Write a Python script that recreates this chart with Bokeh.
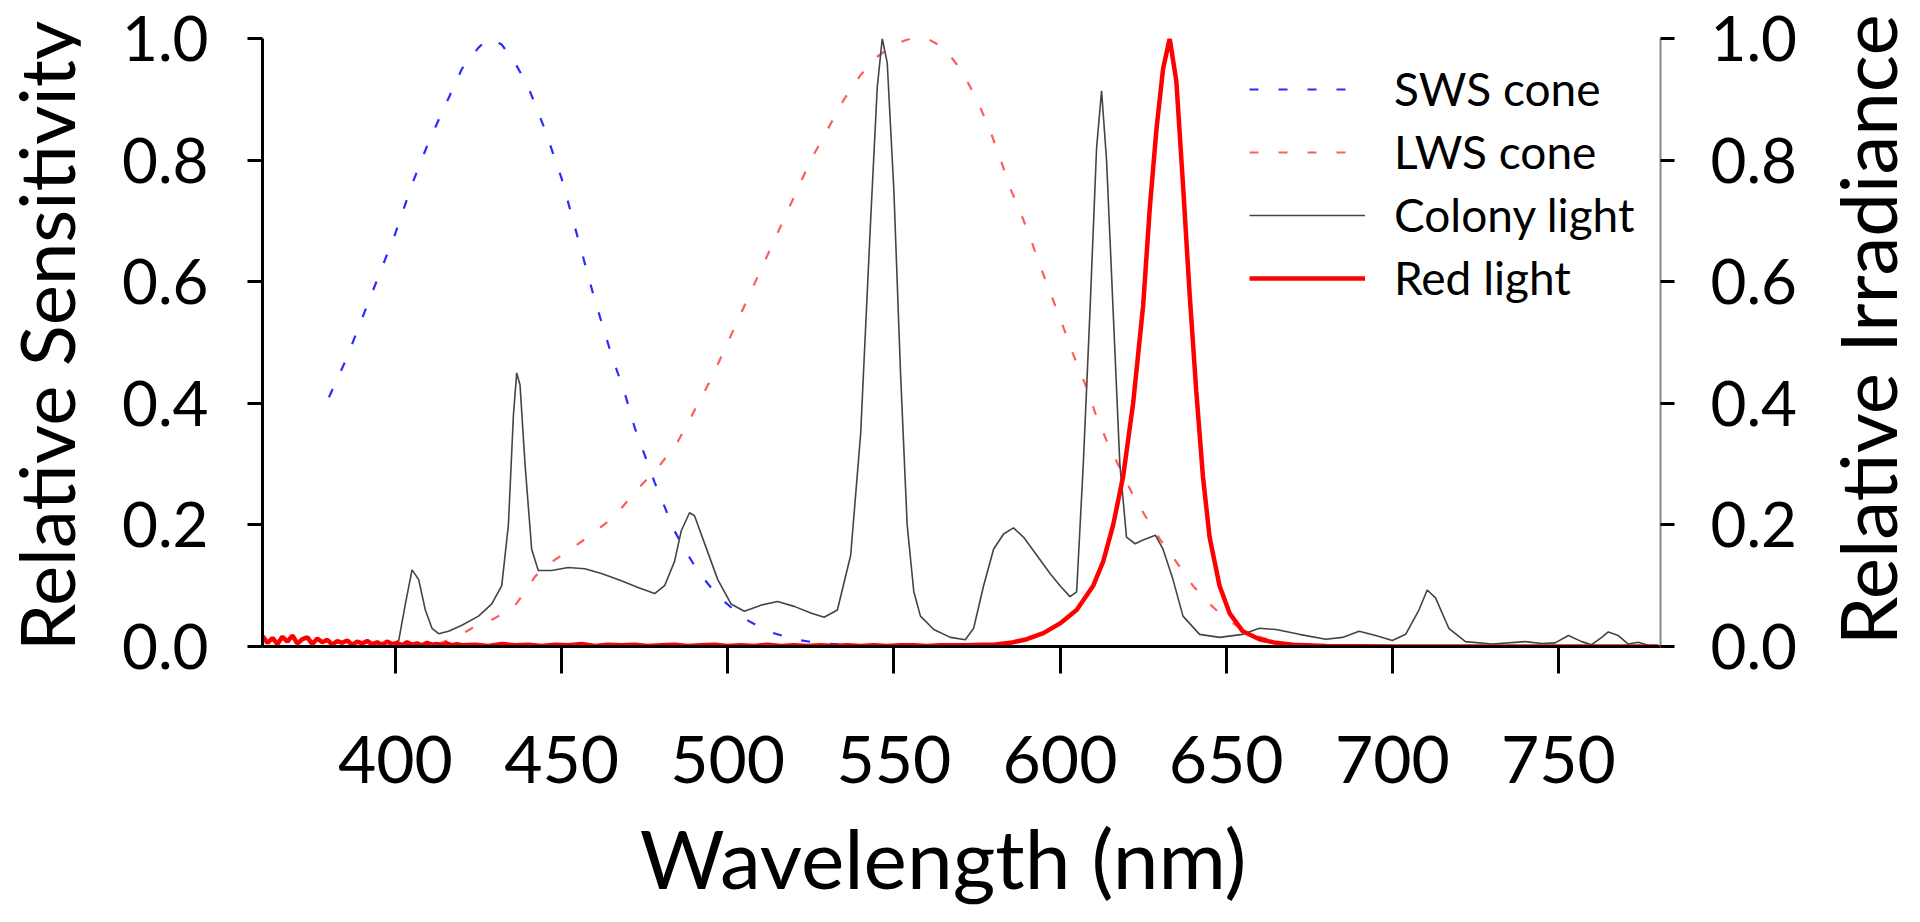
from bokeh.plotting import figure
from bokeh.layouts import row, column
from bokeh.models import (Range1d, LinearAxis, FixedTicker, PrintfTickFormatter,
                          Legend, LegendItem, Div)
from bokeh.embed import file_html
from bokeh.resources import INLINE

FONT = "Lato"

# ---------------- data ----------------
x_ticks = [400, 450, 500, 550, 600, 650, 700, 750]
y_ticks = [0.0, 0.2, 0.4, 0.6, 0.8, 1.0]

sws_nm = [380, 385, 390, 395, 400, 405, 410, 415, 420, 425, 428, 432, 436, 440, 445,
          450, 455, 460, 465, 469, 472, 475, 478, 481, 484, 487, 491, 497, 505, 512,
          520, 528, 540, 560, 600, 650, 700, 750, 780]
sws_val = [0.41, 0.47, 0.54, 0.61, 0.68, 0.76, 0.83, 0.89, 0.95, 0.985, 1.0, 0.99, 0.96,
           0.92, 0.85, 0.77, 0.67, 0.57, 0.48, 0.417, 0.36, 0.315, 0.27, 0.23, 0.19,
           0.16, 0.124, 0.083, 0.046, 0.025, 0.012, 0.005, 0.002, 0.0, 0.0, 0.0, 0.0,
           0.0, 0.0]

lws_nm = [413, 418, 423, 427, 431, 435, 439, 442, 446, 450, 458, 466, 472, 479, 485,
          489, 495, 500, 505, 510, 515, 520, 525, 530, 535, 540, 545, 550, 555, 560,
          565, 570, 575, 579.6, 582.3, 585, 588.1, 591, 593.6, 596.5, 600, 604, 607.9,
          610.8, 614, 617.5, 621.3, 625.6, 630, 635.8, 640, 645, 650, 655, 660, 665,
          670, 680, 700, 750, 780]
lws_val = [0.005, 0.014, 0.03, 0.038, 0.05, 0.06, 0.09, 0.115, 0.135, 0.15, 0.18, 0.214,
           0.254, 0.294, 0.337, 0.378, 0.44, 0.5, 0.56, 0.62, 0.68, 0.74, 0.8, 0.85,
           0.9, 0.94, 0.97, 0.99, 1.0, 1.0, 0.985, 0.95, 0.9, 0.839, 0.798, 0.754,
           0.714, 0.673, 0.632, 0.59, 0.54, 0.48, 0.427, 0.381, 0.339, 0.299, 0.256,
           0.215, 0.177, 0.133, 0.1, 0.07, 0.045, 0.028, 0.016, 0.008, 0.004, 0.001,
           0.0, 0.0, 0.0]

colony_nm = [398, 401, 403, 405, 407, 409, 411, 413, 416, 420, 425, 429, 432, 434,
             435.5, 436.5, 437.5, 439, 441, 443, 447, 452, 457, 462, 468, 473, 478,
             481, 484, 486, 488.5, 490, 493, 497, 501, 505, 510, 515, 520, 525, 529,
             533, 537, 540, 543, 545, 546.5, 548, 550, 552, 554, 556, 558, 562, 567,
             571.5, 574, 577, 580, 583, 586, 589, 593, 597, 600, 603, 605, 607, 609,
             611, 612.5, 614, 616, 618, 620, 622.6, 625, 628.7, 631, 634, 637, 642,
             648, 655, 660, 665, 672, 680, 685, 690, 695, 700, 704, 708, 710.5, 713,
             717, 722, 730, 740, 745, 749, 753, 757, 760, 763, 765, 768, 771, 774,
             777, 780]
colony_val = [0.0, 0.01, 0.07, 0.126, 0.11, 0.06, 0.03, 0.021, 0.025, 0.035, 0.05, 0.07,
              0.1, 0.2, 0.38, 0.45, 0.43, 0.3, 0.16, 0.125, 0.125, 0.13, 0.128, 0.12,
              0.108, 0.097, 0.087, 0.1, 0.14, 0.19, 0.22, 0.215, 0.17, 0.11, 0.07,
              0.058, 0.068, 0.074, 0.066, 0.055, 0.048, 0.06, 0.15, 0.35, 0.7, 0.92,
              1.0, 0.96, 0.75, 0.45, 0.2, 0.09, 0.05, 0.028, 0.015, 0.011, 0.03, 0.1,
              0.16, 0.185, 0.195, 0.18, 0.15, 0.12, 0.1, 0.082, 0.09, 0.3, 0.55, 0.82,
              0.914, 0.8, 0.55, 0.3, 0.18, 0.169, 0.175, 0.183, 0.16, 0.11, 0.05, 0.02,
              0.015, 0.02, 0.03, 0.028, 0.02, 0.012, 0.015, 0.025, 0.018, 0.01, 0.02,
              0.06, 0.093, 0.08, 0.03, 0.008, 0.004, 0.008, 0.005, 0.006, 0.018, 0.008,
              0.003, 0.015, 0.024, 0.018, 0.004, 0.007, 0.002, 0.001]

red_nm = [360, 361.5, 363, 364.5, 366, 367.5, 369, 370.5, 372, 373.5, 375, 376.5, 378,
          379.5, 381, 382.5, 384, 385.5, 387, 388.5, 390, 391.5, 393, 394.5, 396, 397.5,
          399, 400.5, 402, 403.5, 405, 406.5, 408, 409.5, 411, 412.5, 414, 415.5, 417,
          418.5, 420, 424, 428, 432, 436, 440, 444, 448, 452, 456, 460, 464, 468, 472,
          476, 480, 484, 488, 492, 496, 500, 504, 508, 512, 516, 520, 524, 528, 532, 536,
          540, 544, 548, 552, 556, 560, 564, 568, 572, 576, 580, 585, 590, 595, 600, 605,
          610, 613, 616, 619, 622, 625, 627, 629, 631, 633, 635, 637, 639, 641, 643, 645,
          648, 651, 655, 660, 665, 670, 680, 700, 740, 780]
red_val = [0.017, 0.006, 0.014, 0.004, 0.016, 0.008, 0.018, 0.005, 0.012, 0.015, 0.004,
           0.013, 0.007, 0.011, 0.003, 0.009, 0.006, 0.01, 0.003, 0.008, 0.005, 0.009,
           0.004, 0.007, 0.003, 0.008, 0.004, 0.006, 0.002, 0.007, 0.003, 0.005, 0.002,
           0.006, 0.003, 0.004, 0.002, 0.005, 0.002, 0.004, 0.002, 0.003, 0.001, 0.004,
           0.002, 0.003, 0.001, 0.003, 0.002, 0.004, 0.001, 0.003, 0.002, 0.003, 0.001,
           0.002, 0.003, 0.001, 0.002, 0.003, 0.001, 0.002, 0.001, 0.003, 0.001, 0.002,
           0.001, 0.002, 0.001, 0.002, 0.001, 0.002, 0.001, 0.002, 0.002, 0.001, 0.002,
           0.002, 0.002, 0.003, 0.003, 0.006, 0.012, 0.022, 0.038, 0.06, 0.1, 0.14, 0.2,
           0.28, 0.4, 0.56, 0.72, 0.85, 0.95, 1.0, 0.93, 0.76, 0.58, 0.42, 0.28, 0.18,
           0.1, 0.055, 0.025, 0.012, 0.006, 0.003, 0.001, 0.0, 0.0, 0.0]

series_labels = ["SWS cone", "LWS cone", "Colony light", "Red light"]
x_title = "Wavelength (nm)"
y_title_left = "Relative Sensitivity"
y_title_right = "Relative Irradiance"

# ---------------- layout geometry (px) ----------------
TOTAL_W, TOTAL_H = 1904, 906
LEFT_W, RIGHT_W = 80, 68
TOP_H = 824
BOTTOM_H = TOTAL_H - TOP_H
MAIN_W = TOTAL_W - LEFT_W - RIGHT_W
FRAME_L, FRAME_R, FRAME_T, FRAME_B = 262, 1660, 38, 646

# ---------------- main figure ----------------
p = figure(width=MAIN_W, height=TOP_H, output_backend="svg", toolbar_location=None,
           x_range=Range1d(360, 780.7), y_range=Range1d(0, 1),
           min_border_left=FRAME_L - LEFT_W,
           min_border_right=LEFT_W + MAIN_W - FRAME_R,
           min_border_top=FRAME_T, min_border_bottom=TOP_H - FRAME_B)
p.outline_line_color = None
p.grid.visible = False
p.background_fill_color = "white"
p.border_fill_color = "white"

r_sws = p.line(sws_nm, sws_val, line_color="#2b2bff", line_width=2.2, line_dash="9 20")
r_lws = p.line(lws_nm, lws_val, line_color="#ff5c5c", line_width=2.2, line_dash="9 20")
r_col = p.line(colony_nm, colony_val, line_color="#444444", line_width=1.6)
r_red = p.line(red_nm, red_val, line_color="#ff0000", line_width=4.5)

xa = p.xaxis[0]
xa.ticker = FixedTicker(ticks=x_ticks)
xa.axis_line_width = 3
xa.axis_line_color = "black"
xa.major_tick_out = 27
xa.major_tick_in = 0
xa.major_tick_line_width = 3
xa.minor_tick_out = 0
xa.minor_tick_in = 0
xa.major_label_text_font = FONT
xa.major_label_text_font_size = "66px"
xa.major_label_text_color = "black"
xa.major_label_standoff = 62

ya = p.yaxis[0]
ya.ticker = FixedTicker(ticks=y_ticks)
ya.formatter = PrintfTickFormatter(format="%.1f")
ya.axis_line_width = 3
ya.axis_line_color = "black"
ya.major_tick_out = 15
ya.major_tick_in = 0
ya.major_tick_line_width = 3
ya.minor_tick_out = 0
ya.minor_tick_in = 0
ya.major_label_text_font = FONT
ya.major_label_text_font_size = "62px"
ya.major_label_text_color = "black"
ya.major_label_standoff = 39

yr = LinearAxis(ticker=FixedTicker(ticks=y_ticks),
                formatter=PrintfTickFormatter(format="%.1f"))
yr.axis_line_width = 2
yr.axis_line_color = "#8a8a8a"
yr.major_tick_out = 14
yr.major_tick_in = 0
yr.major_tick_line_width = 3
yr.major_tick_line_color = "black"
yr.minor_tick_out = 0
yr.minor_tick_in = 0
yr.major_label_text_font = FONT
yr.major_label_text_font_size = "62px"
yr.major_label_text_color = "black"
yr.major_label_standoff = 36
p.add_layout(yr, "right")

legend = Legend(items=[LegendItem(label=series_labels[0], renderers=[r_sws]),
                       LegendItem(label=series_labels[1], renderers=[r_lws]),
                       LegendItem(label=series_labels[2], renderers=[r_col]),
                       LegendItem(label=series_labels[3], renderers=[r_red])],
                location=(987, 341), orientation="vertical",
                border_line_color=None, background_fill_alpha=0,
                label_text_font=FONT, label_text_font_size="46px",
                label_text_color="black",
                glyph_width=116, glyph_height=54, label_height=54,
                label_standoff=29, spacing=8, padding=0, margin=0)
p.add_layout(legend)

# ---------------- titles (HTML text, rotated with CSS) ----------------
X_TITLE_PX = 82


def vtitle(text, w, h, baseline_x, centre_y, size):
    line = round(size * 0.76)
    # distance from the top of the line box to the baseline (Lato metrics)
    b = round((line - 1.2 * size) / 2 + 0.987 * size)
    html = (
        f'<div style="position:relative;width:{w}px;height:{h}px;overflow:visible;">'
        f'<div style="position:absolute;left:{baseline_x}px;top:{centre_y}px;'
        f'transform-origin:0 0;transform:rotate(-90deg) translate(-50%,-{b}px);'
        f'white-space:nowrap;font-family:{FONT};font-size:{size}px;'
        f'line-height:{line}px;color:#000;">{text}</div></div>')
    return Div(text=html, width=w, height=h, margin=(0, 0, 0, 0),
               styles={"overflow": "visible"})


left = vtitle(y_title_left, LEFT_W, TOP_H, 75, 336, 76)
right = vtitle(y_title_right, RIGHT_W, TOP_H, 1898 - (TOTAL_W - RIGHT_W), 330, 78)

xb = round(X_TITLE_PX * 0.887)
x_baseline = 889 - TOP_H
bottom_html = (
    f'<div style="position:relative;width:{TOTAL_W}px;height:{BOTTOM_H}px;overflow:visible;">'
    f'<div style="position:absolute;left:943px;top:{x_baseline - xb}px;'
    f'transform:translateX(-50%);white-space:nowrap;font-family:{FONT};'
    f'font-size:{X_TITLE_PX}px;line-height:{X_TITLE_PX}px;color:#000;">{x_title}</div></div>')
bottom = Div(text=bottom_html, width=TOTAL_W, height=BOTTOM_H, margin=(0, 0, 0, 0),
             styles={"overflow": "visible"})

p.margin = (0, 0, 0, 0)
layout = column(row(left, p, right, spacing=0), bottom, spacing=0)

open("out.html", "w").write(file_html(layout, INLINE))
